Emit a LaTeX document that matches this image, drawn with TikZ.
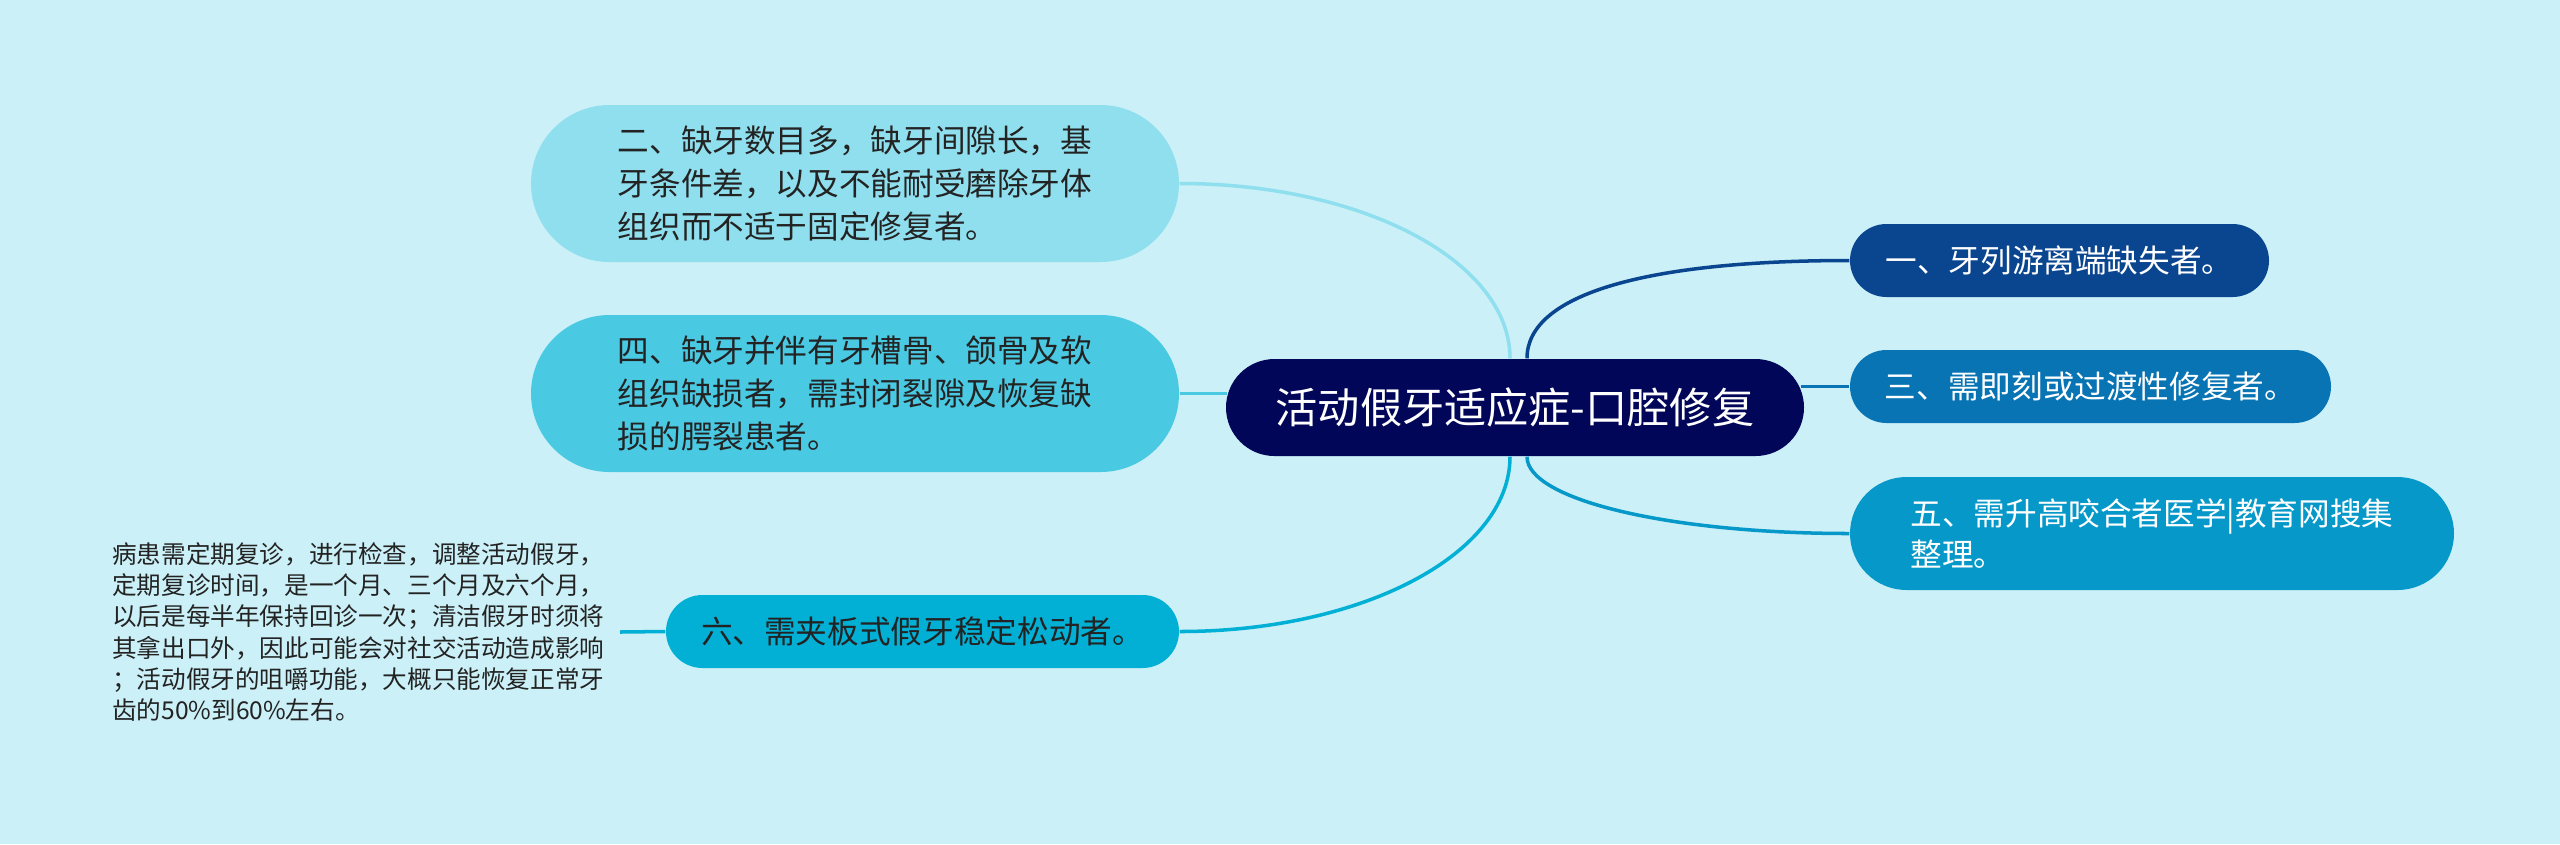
\documentclass[tikz,border=0pt]{standalone}
\usepackage{fontspec}
\setmainfont{Noto Sans CJK SC}
\usepackage{tikz}
\usetikzlibrary{calc}

\definecolor{bgc}{HTML}{CBF0F7}
\definecolor{rootc}{HTML}{020659}
\definecolor{onec}{HTML}{0A4590}
\definecolor{threec}{HTML}{0874B3}
\definecolor{fivec}{HTML}{0598C8}
\definecolor{twoc}{HTML}{90DFEE}
\definecolor{fourc}{HTML}{4AC9E3}
\definecolor{sixc}{HTML}{02B0D5}
\definecolor{txtc}{HTML}{232323}

\begin{document}
\begin{tikzpicture}[x=0.1mm, y=-0.1mm,
	branch/.style={shape=rectangle, inner sep=0pt, align=left, font=\fontsize{9}{12.1}\selectfont},
	dark/.style={branch, text=white},
	light/.style={branch, text=txtc},
	link/.style={line width=1pt}]

	\fill[bgc] (0,0) rectangle (2560,844);

	\node[dark, fill=rootc, minimum width=57.8mm, minimum height=9.7mm, rounded corners=4.85mm, font=\fontsize{12}{14}\selectfont] (ctr) at (1515, 407.5) {活动假牙适应症-口腔修复};
	\node[dark, fill=onec, minimum width=41.9mm, minimum height=7.3mm, rounded corners=3.65mm] (n1) at (2059.5, 260.5) {一、牙列游离端缺失者。};
	\node[dark, fill=threec, minimum width=48.1mm, minimum height=7.3mm, rounded corners=3.65mm] (n3) at (2090.5, 386.5) {三、需即刻或过渡性修复者。};
	\node[dark, fill=fivec, minimum width=60.4mm, minimum height=11.3mm, rounded corners=5.65mm, font=\fontsize{9}{11.9}\selectfont] (n5) at (2152, 533.5) {五、需升高咬合者医学|教育网搜集\\整理。};
	\node[light, fill=twoc, minimum width=64.8mm, minimum height=15.7mm, rounded corners=7.85mm] (n2) at (855, 183.5) {二、缺牙数目多，缺牙间隙长，基\\牙条件差，以及不能耐受磨除牙体\\组织而不适于固定修复者。};
	\node[light, fill=fourc, minimum width=64.8mm, minimum height=15.7mm, rounded corners=7.85mm] (n4) at (855, 393.5) {四、缺牙并伴有牙槽骨、颌骨及软\\组织缺损者，需封闭裂隙及恢复缺\\损的腭裂患者。};
	\node[light, fill=sixc, minimum width=51.3mm, minimum height=7.3mm, rounded corners=3.65mm] (n6) at (922.5, 631.5) {六、需夹板式假牙稳定松动者。};
	\node[light, anchor=east, inner xsep=1.5mm, font=\fontsize{7}{8.9}\selectfont] (note) at (620, 632) {病患需定期复诊，进行检查，调整活动假牙，\\定期复诊时间，是一个月、三个月及六个月，\\以后是每半年保持回诊一次；清洁假牙时须将\\其拿出口外，因此可能会对社交活动造成影响\\；活动假牙的咀嚼功能，大概只能恢复正常牙\\齿的50\%到60\%左右。};

	\draw[link, draw=onec] ([xshift=1.2mm]ctr.north) .. controls +(0,-65) and +(-200,0) .. (n1.west);
	\draw[link, draw=threec] (n3.west) -- ($(n3.west -| ctr.east)+(-4,0)$);
	\draw[link, draw=fivec] ([xshift=1.2mm]ctr.south) .. controls +(0,43) and +(-180,0) .. (n5.west);
	\draw[link, draw=twoc] (n2.east) .. controls +(183,0) and +(0,-97) .. ([xshift=-0.5mm]ctr.north);
	\draw[link, draw=fourc] (n4.east) -- ($(n4.east -| ctr.west)+(2,0)$);
	\draw[link, draw=sixc] (n6.east) .. controls +(183,0) and +(0,97) .. ([xshift=-0.5mm]ctr.south);
	\draw[link, draw=sixc] (note.east) -- (n6.west);

\end{tikzpicture}
\end{document}
